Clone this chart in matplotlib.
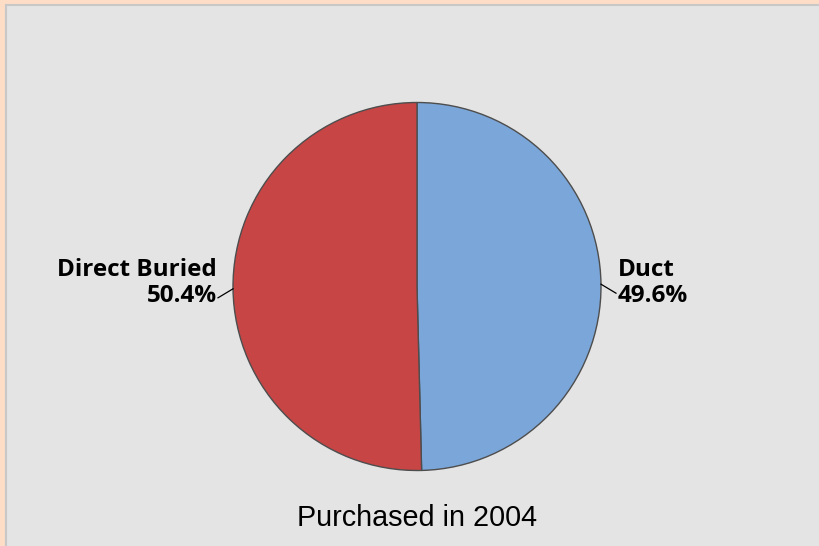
import matplotlib
matplotlib.use("Agg")
import matplotlib.pyplot as plt
from matplotlib.patches import Rectangle
import numpy as np

categories = ["Duct", "Direct Buried"]
shares = [49.6, 50.4]
colors = ["#7BA6D9", "#C74545"]
title = "Purchased in 2004"

W, H = 819, 546
fig = plt.figure(figsize=(W / 100, H / 100), dpi=100)
fig.patch.set_facecolor("#FDDDC6")

# inner gray panel drawn on a background axes
bg = fig.add_axes([0, 0, 1, 1], zorder=-1)
bg.set_xlim(0, W)
bg.set_ylim(H, 0)
bg.axis("off")
bg.add_patch(Rectangle((6, 5), W, H, facecolor="#E4E4E4", edgecolor="#C8C8C8", linewidth=1.5))

cx, cy, r = 417, 286.5, 184
ax = fig.add_axes([(cx - r) / W, (H - cy - r) / H, 2 * r / W, 2 * r / H], zorder=1)
ax.set_facecolor("none")
wedges, _ = ax.pie(shares, colors=colors, startangle=90, counterclock=False,
                   radius=1, wedgeprops=dict(edgecolor="#4D4D4D", linewidth=1.0))
ax.set_xlim(-1, 1)
ax.set_ylim(-1, 1)
ax.set_aspect("equal")
ax.axis("off")

px = 1.0 / r  # one pixel in data units
label_font = dict(fontsize=17.5, fontweight="bold", family=["Open Sans", "DejaVu Sans"])
base1 = 10 * px  # baseline of the first label line, just above the pie's centre line
for w, cat, val in zip(wedges, categories, shares):
    ang = np.deg2rad((w.theta1 + w.theta2) / 2)
    x0, y0 = np.cos(ang), np.sin(ang)
    side = 1 if x0 > 0 else -1
    # short leader from the rim, angled slightly downward
    x2 = x0 + side * 15 * px
    y2 = y0 - 9 * px
    ax.plot([x0, x2], [y0, y2], color="black", lw=0.9, clip_on=False)
    ha = "left" if side > 0 else "right"
    tx = x2 + side * 1.5 * px
    ax.text(tx, base1, cat, ha=ha, va="baseline", **label_font)
    ax.text(tx, base1 - 25 * px, f"{val:.1f}%", ha=ha, va="baseline", **label_font)

fig.text(cx / W, 1 - 518 / H, title, ha="center", va="center", fontsize=20.7,
         family=["Liberation Sans", "DejaVu Sans"], color="black")

fig.savefig("out.png", dpi=100, facecolor=fig.get_facecolor())
